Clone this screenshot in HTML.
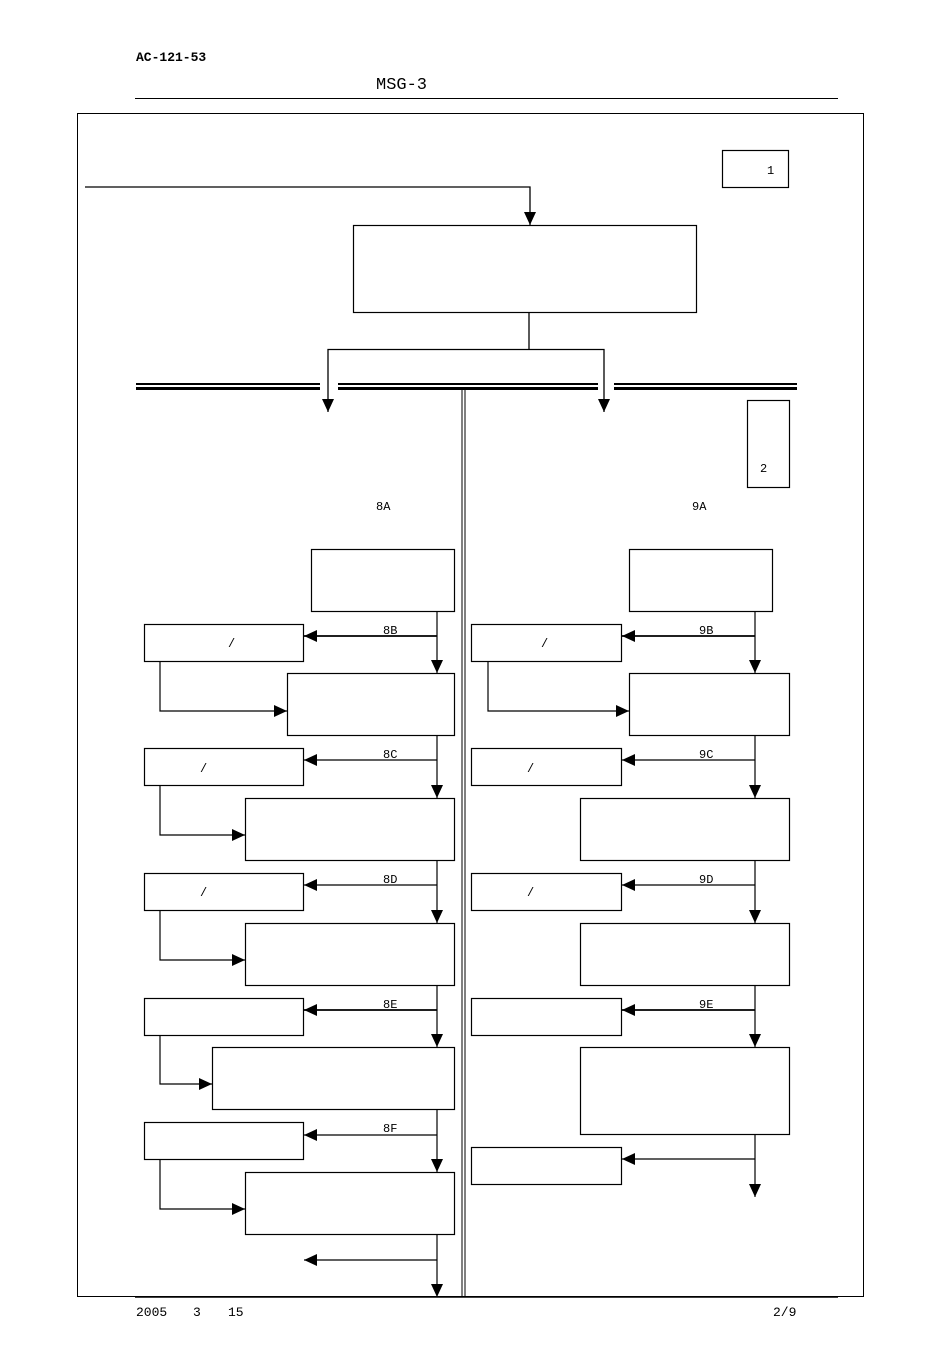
<!DOCTYPE html>
<html><head><meta charset="utf-8"><style>
html,body{margin:0;padding:0;background:#fff;}
svg{display:block;}
text{font-family:"Liberation Mono","Noto Sans CJK SC",monospace;fill:#000;}
</style></head><body>
<svg width="950" height="1345" viewBox="0 0 950 1345" xmlns="http://www.w3.org/2000/svg">
<defs>
<marker id="a" markerWidth="13" markerHeight="12" refX="13" refY="6" orient="auto" markerUnits="userSpaceOnUse"><path d="M0,0 L13,6 L0,12 Z" fill="#000"/></marker>
</defs>
<text x="136" y="61" font-size="13" font-weight="bold">AC-121-53</text>
<text x="376" y="89" font-size="17">MSG-3</text>
<line x1="135" y1="98.5" x2="838" y2="98.5" stroke="#000" stroke-width="1"/>
<rect x="77.5" y="113.5" width="786" height="1183" fill="none" stroke="#000" stroke-width="1"/>
<line x1="135" y1="1297" x2="838" y2="1297" stroke="#000" stroke-width="1.5"/>
<text x="136" y="1316" font-size="13">2005</text>
<text x="193" y="1316" font-size="13">3</text>
<text x="228" y="1316" font-size="13">15</text>
<text x="773" y="1316" font-size="13">2/9</text>
<g fill="none" stroke="#000" stroke-width="1.2">
<rect x="722.5" y="150.5" width="66" height="37"/>
<rect x="747.5" y="400.5" width="42" height="87"/>
<rect x="353.5" y="225.5" width="343" height="87"/>
<rect x="311.5" y="549.5" width="143" height="62"/>
<rect x="144.5" y="624.5" width="159" height="37"/>
<rect x="287.5" y="673.5" width="167" height="62"/>
<rect x="144.5" y="748.5" width="159" height="37"/>
<rect x="245.5" y="798.5" width="209" height="62"/>
<rect x="144.5" y="873.5" width="159" height="37"/>
<rect x="245.5" y="923.5" width="209" height="62"/>
<rect x="144.5" y="998.5" width="159" height="37"/>
<rect x="212.5" y="1047.5" width="242" height="62"/>
<rect x="144.5" y="1122.5" width="159" height="37"/>
<rect x="245.5" y="1172.5" width="209" height="62"/>
<rect x="629.5" y="549.5" width="143" height="62"/>
<rect x="471.5" y="624.5" width="150" height="37"/>
<rect x="629.5" y="673.5" width="160" height="62"/>
<rect x="471.5" y="748.5" width="150" height="37"/>
<rect x="580.5" y="798.5" width="209" height="62"/>
<rect x="471.5" y="873.5" width="150" height="37"/>
<rect x="580.5" y="923.5" width="209" height="62"/>
<rect x="471.5" y="998.5" width="150" height="37"/>
<rect x="580.5" y="1047.5" width="209" height="87"/>
<rect x="471.5" y="1147.5" width="150" height="37"/>
</g>
<g fill="none" stroke="#000" stroke-width="1.3">
<polyline points="85,187 530,187 530,225" marker-end="url(#a)"/>
<line x1="529" y1="312" x2="529" y2="349"/>
<polyline points="328,412 328,349.5 604,349.5 604,412"/>
</g>
<path d="M322,399 L334,399 L328,412Z M598,399 L610,399 L604,412Z" fill="#000"/>
<g fill="#000">
<rect x="136" y="383" width="184" height="2"/><rect x="136" y="387" width="184" height="3"/>
<rect x="338" y="383" width="260" height="2"/><rect x="338" y="387" width="260" height="3"/>
<rect x="614" y="383" width="183" height="2"/><rect x="614" y="387" width="183" height="3"/>
</g>
<line x1="462" y1="390" x2="462" y2="1297" stroke="#000" stroke-width="1"/>
<line x1="465" y1="390" x2="465" y2="1297" stroke="#000" stroke-width="1"/>
<g font-size="12">
<text x="767" y="174">1</text>
<text x="760" y="472">2</text>
<text x="376" y="510">8A</text>
<text x="692" y="510">9A</text>
<text x="383" y="634">8B</text><text x="383" y="758">8C</text><text x="383" y="883">8D</text><text x="383" y="1008">8E</text><text x="383" y="1132">8F</text>
<text x="699" y="634">9B</text><text x="699" y="758">9C</text><text x="699" y="883">9D</text><text x="699" y="1008">9E</text>
<text x="228" y="647">/</text><text x="200" y="772">/</text><text x="200" y="896">/</text>
<text x="541" y="647">/</text><text x="527" y="772">/</text><text x="527" y="896">/</text>
</g>
<g fill="none" stroke="#000" stroke-width="1.2">
<line x1="437" y1="611" x2="437" y2="673" marker-end="url(#a)"/>
<line x1="437" y1="636" x2="304" y2="636" marker-end="url(#a)" stroke-width="1.8"/>
<polyline points="160,661 160,711 287,711" marker-end="url(#a)"/>
<line x1="437" y1="735" x2="437" y2="798" marker-end="url(#a)"/>
<line x1="437" y1="760" x2="304" y2="760" marker-end="url(#a)"/>
<polyline points="160,785 160,835 245,835" marker-end="url(#a)"/>
<line x1="437" y1="860" x2="437" y2="923" marker-end="url(#a)"/>
<line x1="437" y1="885" x2="304" y2="885" marker-end="url(#a)"/>
<polyline points="160,910 160,960 245,960" marker-end="url(#a)"/>
<line x1="437" y1="985" x2="437" y2="1047" marker-end="url(#a)"/>
<line x1="437" y1="1010" x2="304" y2="1010" marker-end="url(#a)" stroke-width="1.8"/>
<polyline points="160,1035 160,1084 212,1084" marker-end="url(#a)"/>
<line x1="437" y1="1109" x2="437" y2="1172" marker-end="url(#a)"/>
<line x1="437" y1="1135" x2="304" y2="1135" marker-end="url(#a)"/>
<polyline points="160,1159 160,1209 245,1209" marker-end="url(#a)"/>
<line x1="437" y1="1234" x2="437" y2="1297" marker-end="url(#a)"/>
<line x1="437" y1="1260" x2="304" y2="1260" marker-end="url(#a)"/>
<line x1="755" y1="611" x2="755" y2="673" marker-end="url(#a)"/>
<line x1="755" y1="636" x2="622" y2="636" marker-end="url(#a)" stroke-width="1.8"/>
<polyline points="488,661 488,711 629,711" marker-end="url(#a)"/>
<line x1="755" y1="735" x2="755" y2="798" marker-end="url(#a)"/>
<line x1="755" y1="760" x2="622" y2="760" marker-end="url(#a)"/>
<line x1="755" y1="860" x2="755" y2="923" marker-end="url(#a)"/>
<line x1="755" y1="885" x2="622" y2="885" marker-end="url(#a)"/>
<line x1="755" y1="985" x2="755" y2="1047" marker-end="url(#a)"/>
<line x1="755" y1="1010" x2="622" y2="1010" marker-end="url(#a)" stroke-width="1.8"/>
<line x1="755" y1="1134" x2="755" y2="1197" marker-end="url(#a)"/>
<line x1="755" y1="1159" x2="622" y2="1159" marker-end="url(#a)"/>
</g>
</svg>
</body></html>
